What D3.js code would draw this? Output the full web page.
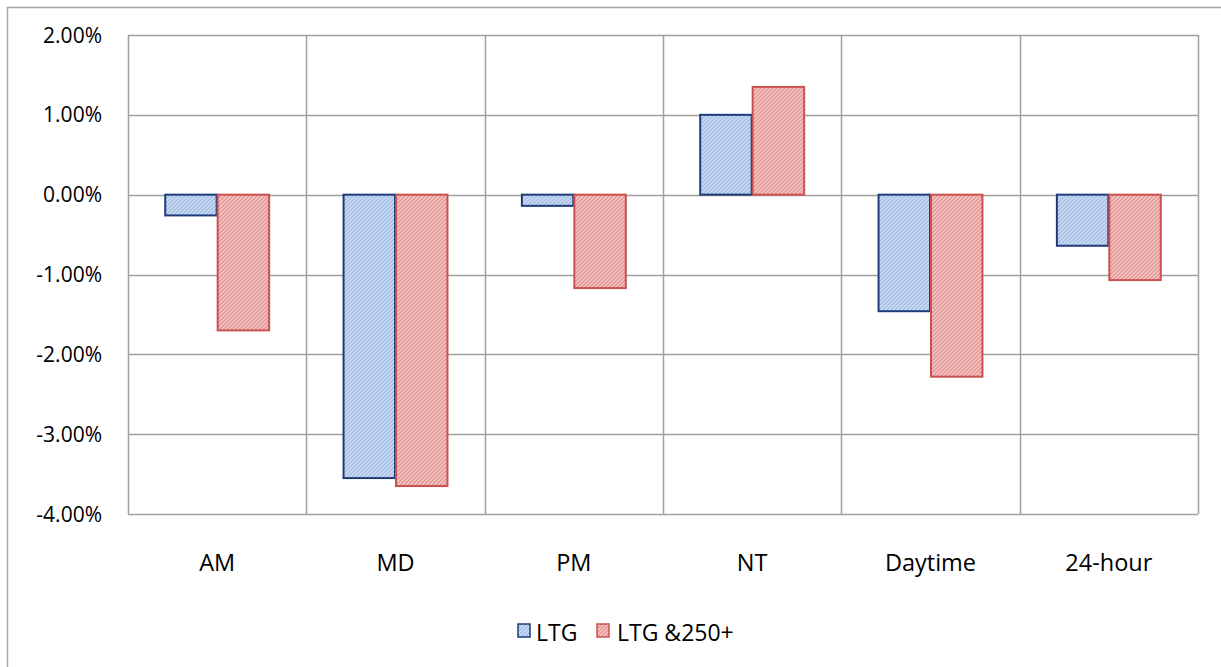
<!DOCTYPE html>
<html>
<head>
<meta charset="utf-8">
<script src="https://d3js.org/d3.v7.min.js"></script>
<style>
  html, body { margin: 0; padding: 0; background: #fff; }
  svg { display: block; font-family: "Open Sans", "Liberation Sans", sans-serif; }
</style>
</head>
<body>
<div id="chart"></div>
<script>
// 数据
const categories = ['AM', 'MD', 'PM', 'NT', 'Daytime', '24-hour'];
const seriesNames = ['LTG', 'LTG &250+'];
const ltgValues = [-0.26, -3.55, -0.14, 1.00, -1.46, -0.64];
const ltg250Values = [-1.70, -3.65, -1.17, 1.35, -2.28, -1.07];
const yTicks = [2, 1, 0, -1, -2, -3, -4];

const width = 1221, height = 667;
const margin = { top: 35, right: 23, bottom: 153, left: 128 };
const innerW = width - margin.left - margin.right;
const innerH = height - margin.top - margin.bottom;

const series = [
  { name: seriesNames[0], values: ltgValues, fill: '#a3bce6', hatch: '#d0def4', stroke: '#1f3b78' },
  { name: seriesNames[1], values: ltg250Values, fill: '#e39593', hatch: '#f4c9c8', stroke: '#c9514f' }
];

const svg = d3.select('#chart').append('svg')
  .attr('width', width)
  .attr('height', height);

// 斜线填充图案
const defs = svg.append('defs');
series.forEach((s, i) => {
  const p = defs.append('pattern')
    .attr('id', 'hatch' + i)
    .attr('patternUnits', 'userSpaceOnUse')
    .attr('width', 4).attr('height', 4);
  p.append('rect').attr('width', 4).attr('height', 4).attr('fill', s.fill);
  p.append('path')
    .attr('d', 'M-1,1 l2,-2 M0,4 l4,-4 M3,5 l2,-2')
    .attr('stroke', s.hatch).attr('stroke-width', 1.4);
});

// 外框
svg.append('rect')
  .attr('x', 7.5).attr('y', 7.5)
  .attr('width', 1240).attr('height', 700)
  .attr('fill', 'none').attr('stroke', '#a6a6a6').attr('stroke-width', 1.5);

const chart = svg.append('g')
  .attr('transform', `translate(${margin.left},${margin.top})`);

const x = d3.scaleBand().domain(categories).range([0, innerW]);
const x1 = d3.scaleBand().domain([0, 1]).range([0, x.bandwidth()]).paddingOuter(0.7);
const y = d3.scaleLinear().domain([-4, 2]).range([innerH, 0]);

// 网格线
chart.selectAll('.hgrid').data(yTicks).enter().append('line')
  .attr('x1', 0).attr('x2', innerW)
  .attr('y1', d => Math.round(y(d)) + 0.5).attr('y2', d => Math.round(y(d)) + 0.5)
  .attr('stroke', '#a0a0a0').attr('stroke-width', 1.5);

const vlines = categories.map(c => x(c)).concat([innerW]);
chart.selectAll('.vgrid').data(vlines).enter().append('line')
  .attr('x1', d => Math.round(d) + 0.5).attr('x2', d => Math.round(d) + 0.5)
  .attr('y1', 0).attr('y2', innerH)
  .attr('stroke', '#a0a0a0').attr('stroke-width', 1.5);

// Y轴刻度标签
const fmt = d => (d < 0 ? '-' : '') + Math.abs(d).toFixed(2) + '%';
chart.selectAll('.ylab').data(yTicks).enter().append('text')
  .attr('x', -26).attr('y', d => y(d))
  .attr('dy', '0.36em')
  .attr('text-anchor', 'end')
  .style('font-size', '21px').attr('fill', '#000')
  .text(fmt);

// X轴类别标签
chart.selectAll('.xlab').data(categories).enter().append('text')
  .attr('x', d => x(d) + x.bandwidth() / 2)
  .attr('y', innerH + 57)
  .attr('text-anchor', 'middle')
  .style('font-size', '23.5px').attr('fill', '#000')
  .text(d => d);

// 柱子
series.forEach((s, i) => {
  chart.selectAll('.bar' + i).data(categories).enter().append('rect')
    .attr('x', c => x(c) + x1(i) + 0.5)
    .attr('y', (c, j) => y(Math.max(0, s.values[j])))
    .attr('width', x1.bandwidth() - 1)
    .attr('height', (c, j) => Math.abs(y(s.values[j]) - y(0)))
    .attr('fill', `url(#hatch${i})`)
    .attr('stroke', s.stroke).attr('stroke-width', 2);
});

// 图例
const legendItems = [
  { x: 518, textX: 536 },
  { x: 597, textX: 617 }
];
const legend = svg.append('g');
series.forEach((s, i) => {
  legend.append('rect')
    .attr('x', legendItems[i].x).attr('y', 624)
    .attr('width', 12).attr('height', 13)
    .attr('fill', `url(#hatch${i})`)
    .attr('stroke', s.stroke).attr('stroke-width', 1.5);
  legend.append('text')
    .attr('x', legendItems[i].textX).attr('y', 641)
    .style('font-size', '23px').attr('fill', '#000')
    .text(s.name);
});
</script>
</body>
</html>
